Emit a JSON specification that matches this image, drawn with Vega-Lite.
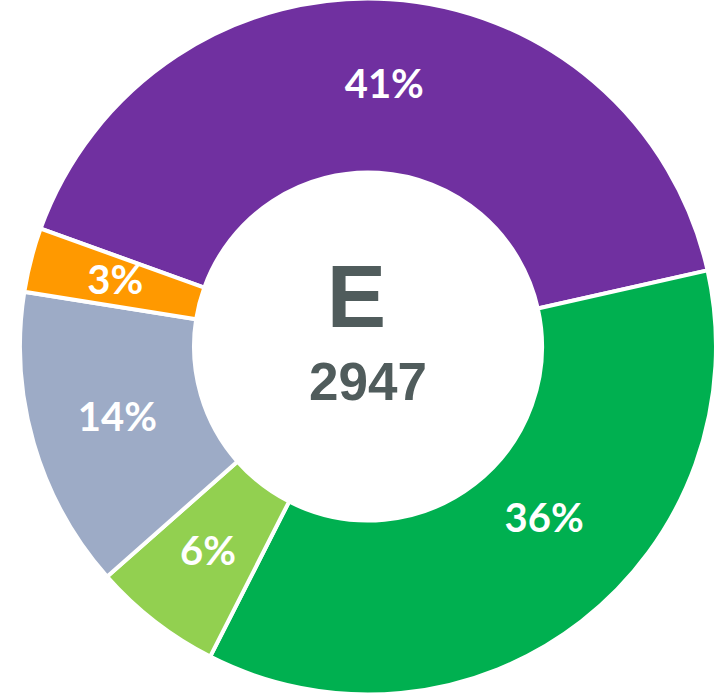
{
  "$schema": "https://vega.github.io/schema/vega-lite/v6.json",
  "width": 736,
  "height": 693,
  "padding": 0,
  "autosize": "none",
  "background": "white",
  "view": {"stroke": null},
  "datasets": {
    "slices": [
      {"cat": "Purple", "ord": 1, "count": 1208, "label": "41%"},
      {"cat": "Green", "ord": 2, "count": 1061, "label": "36%"},
      {"cat": "Light green", "ord": 3, "count": 177, "label": "6%"},
      {"cat": "Grey", "ord": 4, "count": 413, "label": "14%"},
      {"cat": "Orange", "ord": 5, "count": 88, "label": "3%"}
    ],
    "center": [{"name": "E", "total": 2947}]
  },
  "layer": [
    {
      "data": {"name": "slices"},
      "mark": {"type": "arc", "radius": 348, "radius2": 174, "stroke": "white", "strokeWidth": 4},
      "encoding": {
        "theta": {"field": "count", "type": "quantitative", "stack": true, "scale": {"range": [5.058, 11.341]}},
        "order": {"field": "ord", "type": "quantitative"},
        "color": {
          "field": "cat", "type": "nominal", "legend": null,
          "scale": {"domain": ["Purple", "Green", "Light green", "Grey", "Orange"],
                    "range": ["#7030A0", "#00B050", "#92D050", "#9DABC6", "#FF9900"]}
        }
      }
    },
    {
      "data": {"name": "slices"},
      "mark": {"type": "text", "radius": 261, "font": "Lato", "fontWeight": "bold", "fontSize": 40, "fill": "white", "baseline": "middle", "align": "center"},
      "encoding": {
        "theta": {"field": "count", "type": "quantitative", "stack": true},
        "order": {"field": "ord", "type": "quantitative"},
        "text": {"field": "label", "type": "nominal"},
        "opacity": {"condition": {"test": "datum.cat === 'Green'", "value": 0}, "value": 1}
      }
    },
    {
      "data": {"name": "slices"},
      "mark": {"type": "text", "radius": 261, "font": "Lato", "fontWeight": "bold", "fontSize": 40, "fill": "white", "baseline": "middle", "align": "center", "dx": 16, "dy": -33},
      "encoding": {
        "theta": {"field": "count", "type": "quantitative", "stack": true},
        "order": {"field": "ord", "type": "quantitative"},
        "text": {"field": "label", "type": "nominal"},
        "opacity": {"condition": {"test": "datum.cat === 'Green'", "value": 1}, "value": 0}
      }
    },
    {
      "data": {"name": "center"},
      "mark": {"type": "text", "font": "Liberation Sans", "fontWeight": "bold", "fontSize": 89, "fill": "#505C5C", "baseline": "middle", "align": "center", "dx": -11.5, "dy": -46.5},
      "encoding": {"text": {"field": "name", "type": "nominal"}}
    },
    {
      "data": {"name": "center"},
      "mark": {"type": "text", "font": "Liberation Sans", "fontWeight": "bold", "fontSize": 53, "fill": "#505C5C", "baseline": "middle", "align": "center", "dy": 37.5},
      "encoding": {"text": {"field": "total", "type": "quantitative"}}
    }
  ]
}
